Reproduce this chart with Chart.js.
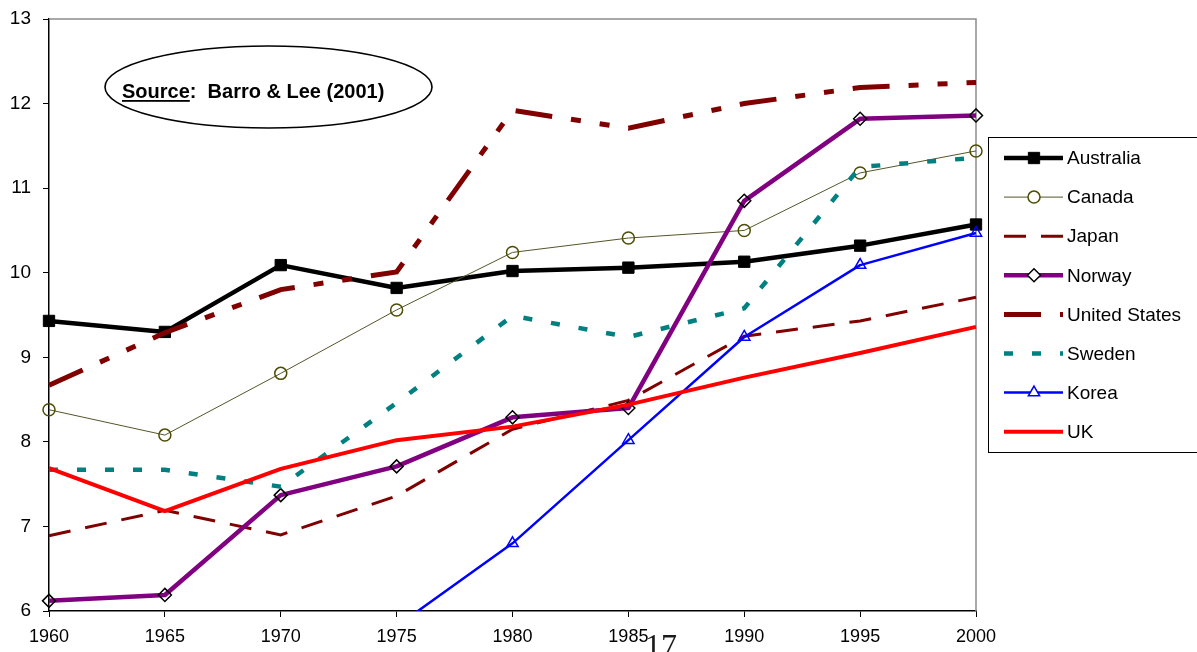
<!DOCTYPE html>
<html>
<head>
<meta charset="utf-8">
<script src="https://cdn.jsdelivr.net/npm/chart.js@4/dist/chart.umd.min.js"></script>
<style>
  html, body { margin: 0; padding: 0; background: #ffffff; }
  #wrap { width: 1197px; height: 652px; position: relative; }
</style>
</head>
<body>
<div id="wrap"><canvas id="chart" width="1197" height="652"></canvas></div>
<script>
// Average years of schooling, selected countries, 1960-2000
const years = ['1960', '1965', '1970', '1975', '1980', '1985', '1990', '1995', '2000'];

const australia    = [9.43, 9.30, 10.09, 9.82, 10.02, 10.06, 10.13, 10.32, 10.57];
const canada       = [8.38, 8.08, 8.81, 9.56, 10.24, 10.41, 10.50, 11.18, 11.44];
const japan        = [6.89, 7.19, 6.90, 7.36, 8.15, 8.49, 9.25, 9.43, 9.71];
const norway       = [6.12, 6.19, 7.37, 7.71, 8.29, 8.40, 10.85, 11.82, 11.86];
const unitedStates = [8.67, 9.29, 9.80, 10.01, 11.92, 11.71, 12.00, 12.19, 12.25];
const sweden       = [7.67, 7.67, 7.47, 8.46, 9.49, 9.24, 9.58, 11.25, 11.36];
const korea        = [null, null, null, 5.82, 6.80, 8.02, 9.24, 10.09, 10.47];
const uk           = [7.69, 7.18, 7.68, 8.02, 8.18, 8.44, 8.76, 9.05, 9.36];

const yMin = 6, yMax = 13, yStep = 1;

const SANS = "'Liberation Sans', Arial, Helvetica, sans-serif";
const SERIF = "'Liberation Serif', 'Times New Roman', serif";
Chart.defaults.font.family = SANS;
Chart.defaults.color = '#000000';

const CLIP = { left: 14, right: 14, top: 14, bottom: 0 };

function series(label, data, style, order) {
  return Object.assign({
    label, data, order,
    tension: 0,
    fill: false,
    spanGaps: false,
    clip: CLIP,
    pointRadius: 0,
    pointHoverRadius: 0,
    borderCapStyle: 'butt',
    borderJoinStyle: 'round'
  }, style);
}

const datasets = [
  series('Australia', australia, {
    borderColor: '#000000', borderWidth: 4.5,
    pointStyle: 'rect', pointRadius: 8, pointBorderWidth: 1,
    pointBackgroundColor: '#000000', pointBorderColor: '#000000',
    legendFill: '#000000'
  }, 8),
  series('Canada', canada, {
    borderColor: '#55552a', borderWidth: 1,
    pointStyle: 'circle', pointRadius: 6, pointBorderWidth: 1.5,
    pointBackgroundColor: 'rgba(255,255,255,0)', pointBorderColor: '#4d4d00',
    legendFill: '#ffffff'
  }, 7),
  series('Japan', japan, {
    borderColor: '#800000', borderWidth: 3,
    borderDash: [22, 15], borderJoinStyle: 'miter'
  }, 6),
  series('Norway', norway, {
    borderColor: '#800080', borderWidth: 4.5,
    pointStyle: 'rectRot', pointRadius: 6.5, pointBorderWidth: 1.5,
    pointBackgroundColor: 'rgba(255,255,255,0)', pointBorderColor: '#000000',
    legendFill: '#ffffff'
  }, 5),
  series('United States', unitedStates, {
    borderColor: '#800000', borderWidth: 5,
    borderDash: [37, 19, 10, 19, 10, 19], borderJoinStyle: 'miter'
  }, 4),
  series('Sweden', sweden, {
    borderColor: '#008080', borderWidth: 4.5,
    borderDash: [9, 19], borderJoinStyle: 'miter'
  }, 3),
  series('Korea', korea, {
    borderColor: '#0000ff', borderWidth: 2.5,
    pointStyle: 'triangle', pointRadius: 6.5, pointBorderWidth: 1.5,
    pointBackgroundColor: 'rgba(255,255,255,0)', pointBorderColor: '#0000ff',
    legendFill: '#ffffff'
  }, 2),
  series('UK', uk, {
    borderColor: '#ff0000', borderWidth: 4
  }, 1)
];

// Plot frame (grey top/right), source ellipse, legend box and page number
const decor = {
  id: 'decor',
  beforeDatasetsDraw(chart) {
    const { ctx, chartArea: a } = chart;
    ctx.save();
    ctx.strokeStyle = '#8c8c8c';
    ctx.lineWidth = 1.5;
    ctx.beginPath();
    ctx.moveTo(a.left, a.top);
    ctx.lineTo(a.right, a.top);
    ctx.lineTo(a.right, a.bottom);
    ctx.stroke();
    ctx.restore();
  },
  afterDraw(chart) {
    const { ctx } = chart;
    ctx.save();

    // Source note inside an ellipse
    const ex = 268.5, ey = 87;
    ctx.beginPath();
    ctx.ellipse(ex, ey, 163.5, 41, 0, 0, Math.PI * 2);
    ctx.fillStyle = '#ffffff';
    ctx.fill();
    ctx.lineWidth = 1.6;
    ctx.strokeStyle = '#000000';
    ctx.stroke();

    ctx.font = 'bold 20px ' + SANS;
    ctx.fillStyle = '#000000';
    ctx.textBaseline = 'alphabetic';
    ctx.textAlign = 'left';
    const tx = 122, ty = 98;
    const word = 'Source';
    ctx.fillText(word, tx, ty);
    const w = ctx.measureText(word).width;
    ctx.fillRect(tx, ty + 2, w, 1.8);
    ctx.fillText(':  Barro & Lee (2001)', tx + w, ty);

    // Legend
    const lx = 988.5, ly = 137.5, lw = 260, lh = 315;
    ctx.fillStyle = '#ffffff';
    ctx.fillRect(lx, ly, lw, lh);
    ctx.lineWidth = 1;
    ctx.strokeStyle = '#000000';
    ctx.strokeRect(lx, ly, lw, lh);

    const rowTop = 158, rowGap = 39.1;
    const x0 = 1004, x1 = 1063, xm = 1034;
    chart.data.datasets.forEach((ds, i) => {
      const y = rowTop + i * rowGap;
      ctx.save();
      ctx.strokeStyle = ds.borderColor;
      ctx.lineWidth = ds.borderWidth;
      ctx.setLineDash(ds.borderDash || []);
      ctx.lineCap = 'butt';
      ctx.beginPath();
      ctx.moveTo(x0, y);
      ctx.lineTo(x1, y);
      ctx.stroke();
      ctx.restore();
      if (ds.pointRadius > 0) {
        ctx.save();
        ctx.fillStyle = ds.legendFill;
        ctx.strokeStyle = ds.pointBorderColor;
        ctx.lineWidth = ds.pointBorderWidth;
        Chart.helpers.drawPoint(ctx, {
          pointStyle: ds.pointStyle,
          radius: ds.pointRadius,
          borderWidth: ds.pointBorderWidth,
          rotation: 0
        }, xm, y);
        ctx.restore();
      }
      ctx.font = '19px ' + SANS;
      ctx.fillStyle = '#000000';
      ctx.textBaseline = 'middle';
      ctx.textAlign = 'left';
      ctx.fillText(ds.label, 1067, y + 1);
    });

    // Page number
    ctx.font = '32px ' + SERIF;
    ctx.fillStyle = '#1a1a1a';
    ctx.textBaseline = 'alphabetic';
    ctx.textAlign = 'left';
    ctx.fillText('17', 645, 656);

    ctx.restore();
  }
};

new Chart(document.getElementById('chart'), {
  type: 'line',
  data: { labels: years, datasets },
  options: {
    responsive: false,
    animation: false,
    events: [],
    layout: { padding: { top: 19, right: 221, left: 0, bottom: 0 } },
    plugins: { legend: { display: false }, tooltip: { enabled: false } },
    scales: {
      x: {
        type: 'category',
        offset: false,
        afterFit(scale) { scale.height = 41; },
        border: { display: true, color: '#000000', width: 1.5 },
        grid: { display: true, drawOnChartArea: false, drawTicks: true, tickLength: 6, color: '#000000', lineWidth: 1 },
        ticks: { font: { size: 18 }, color: '#000000', padding: 9, maxRotation: 0, autoSkip: false }
      },
      y: {
        min: yMin, max: yMax,
        afterFit(scale) { scale.width = 49; scale.paddingTop = 0; scale.paddingBottom = 0; },
        border: { display: true, color: '#000000', width: 1.5 },
        grid: { display: true, drawOnChartArea: false, drawTicks: true, tickLength: 6, color: '#000000', lineWidth: 1 },
        ticks: { stepSize: yStep, font: { size: 19 }, color: '#000000', padding: 12 }
      }
    }
  },
  plugins: [decor]
});
</script>
</body>
</html>
